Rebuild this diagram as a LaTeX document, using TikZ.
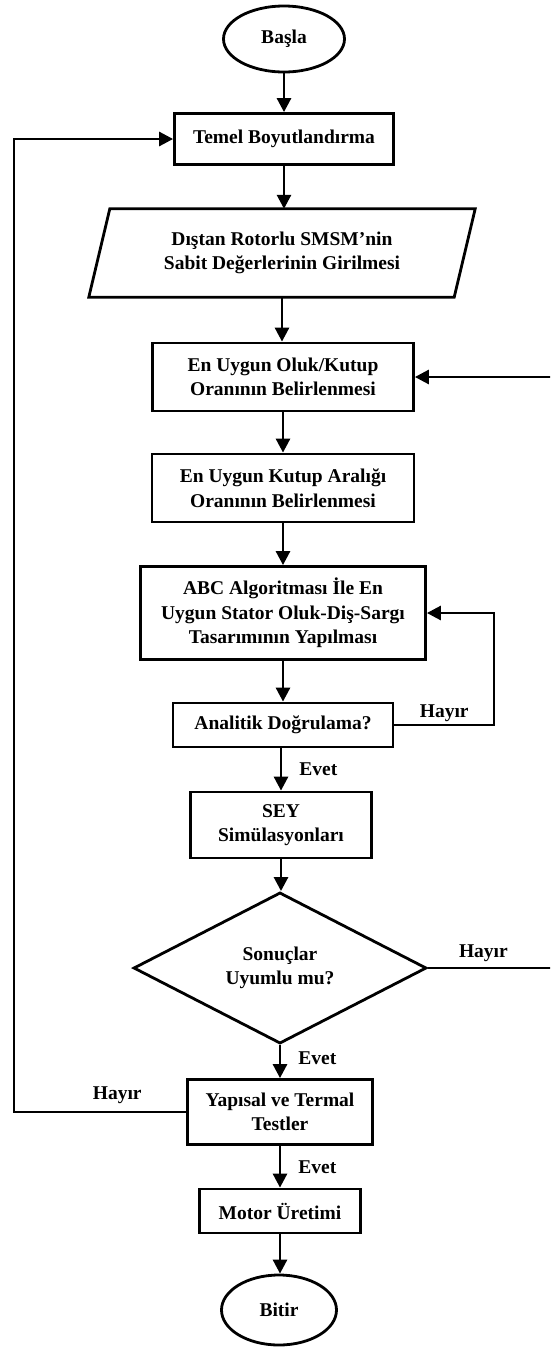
\documentclass[tikz,border=0pt]{standalone}
\usepackage{fontspec}
\setmainfont{Liberation Serif}
\usetikzlibrary{shapes.geometric,arrows.meta}
\tikzset{
	box node/.style={rectangle, draw, line width=2.8pt, inner sep=0, align=center, font=\fontsize{19.5}{24.5}\selectfont\bfseries},
	term node/.style={ellipse, draw, line width=2.8pt, inner sep=0, align=center, font=\fontsize{19.5}{24.5}\selectfont\bfseries},
	data node/.style={rectangle, inner sep=0, align=center, font=\fontsize{19.5}{24.5}\selectfont\bfseries},
	decision node/.style={diamond, draw, line width=2.8pt, inner sep=0, align=center, font=\fontsize{19.5}{24.5}\selectfont\bfseries},
	label node/.style={inner sep=2, font=\fontsize{19.5}{24.5}\selectfont\bfseries},
	flow/.style={-{Triangle[width=14pt,length=14pt]}, line width=2.8pt},
}

\begin{document}
\begin{tikzpicture}[x=1pt, y=-1pt]
 \useasboundingbox (0,0) rectangle (550,1347);
 \clip (0,0) rectangle (550,1347);

              % main column
              \node[term node, minimum width=121, minimum height=66] (start) at (284,39) {Başla};
              \node[box node, minimum width=219, minimum height=51] (temel) at (284,139) {Temel Boyutlandırma};
              \node[data node, minimum width=365, minimum height=88] (girdi) at (282,253) {Dıştan Rotorlu SMSM’nin\\Sabit Değerlerinin Girilmesi};
              \node[box node, minimum width=261, minimum height=68] (oran) at (283,377) {En Uygun Oluk/Kutup\\Oranının Belirlenmesi};
              \node[box node, minimum width=262, minimum height=68] (aralik) at (283,488) {En Uygun Kutup Aralığı\\Oranının Belirlenmesi};
              \node[box node, minimum width=285, minimum height=93] (abc) at (283,613) {ABC Algoritması İle En\\Uygun Stator Oluk-Diş-Sargı\\Tasarımının Yapılması};
              \node[box node, minimum width=220, minimum height=44] (analitik) at (283,725) {Analitik Doğrulama?};
              \node[box node, minimum width=181, minimum height=66] (sey) at (281,825) {SEY\\Simülasyonları};
              \node[decision node, minimum width=293, minimum height=133] (sonuc) at (280,968) {Sonuçlar\\Uyumlu mu?};
              \node[box node, minimum width=185, minimum height=65] (test) at (280,1112) {Yapısal ve Termal\\Testler};
              \node[box node, minimum width=161, minimum height=44] (uretim) at (280,1211) {Motor Üretimi};
              \node[term node, minimum width=115, minimum height=70] (bitir) at (279,1310) {Bitir};

              % slanted input box
              \draw[line width=2.8pt, line join=miter] ([xshift=10.5pt]girdi.north west) -- ([xshift=10.5pt]girdi.north east)
                -- ([xshift=-10.5pt]girdi.south east) -- ([xshift=-10.5pt]girdi.south west) -- cycle;

              % corners of the loops
              \coordinate (solkose) at (14,0);
              \coordinate (sagkose) at (494,0);
              \coordinate (diskose) at (557,0);

              \draw[flow] (start) -- (start |- temel.north);
              \draw[flow] (temel) -- (temel |- girdi.north);
              \draw[flow] (girdi) -- (girdi |- oran.north);
              \draw[flow] (oran) -- (oran |- aralik.north);
              \draw[flow] (aralik) -- (aralik |- abc.north);
              \draw[flow] (abc) -- (abc |- analitik.north);
              \draw[flow] (analitik.south -| sey) -- node[label node, right=15pt]{Evet} (sey.north);
              \draw[flow] (sey) -- (sey |- sonuc.north);
              \draw[flow] (sonuc) -- node[label node, right=15pt, pos=0.4]{Evet} (sonuc |- test.north);
              \draw[flow] (test) -- node[label node, right=15pt, pos=0.5]{Evet} (test |- uretim.north);
              \draw[flow] (uretim) -- (uretim |- bitir.north);

              \draw[flow] (analitik.east) -- node[label node, above]{Hayır} (analitik.east -| sagkose) |- (abc.east);
              \draw[flow] (sonuc.east) -- node[label node, above=3pt, pos=0.43]{Hayır} (sonuc.east -| diskose) |- (oran.east);
              \draw[flow] (test.west) -- node[label node, above=5pt, pos=0.4]{Hayır} (test.west -| solkose) |- (temel.west);

\end{tikzpicture}
\end{document}
